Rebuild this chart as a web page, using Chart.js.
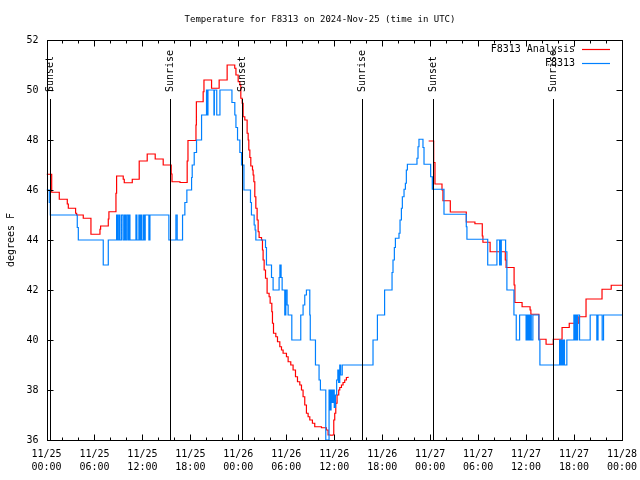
<!DOCTYPE html>
<html>
<head>
<meta charset="utf-8">
<script src="https://cdn.jsdelivr.net/npm/chart.js@4/dist/chart.umd.min.js"></script>
<style>
  html, body { margin: 0; padding: 0; background: #ffffff; }
  #wrap { width: 640px; height: 480px; position: relative; }
</style>
</head>
<body>
<div id="wrap"><canvas id="c" width="640" height="480"></canvas></div>
<script>
// ---------------- DATA ----------------
const chartTitle = "Temperature for F8313 on 2024-Nov-25 (time in UTC)";
const yAxisTitle = "degrees F";
const seriesNames = ["F8313 Analysis", "F8313"];

// x tick labels (hours since 11/25 00:00 UTC, every 6 h)
const xTickHours = [0, 6, 12, 18, 24, 30, 36, 42, 48, 54, 60, 66, 72];
const xTickDates = ["11/25","11/25","11/25","11/25","11/26","11/26","11/26","11/26","11/27","11/27","11/27","11/27","11/28"];
const xTickTimes = ["00:00","06:00","12:00","18:00","00:00","06:00","12:00","18:00","00:00","06:00","12:00","18:00","00:00"];
const yTicks = [36, 38, 40, 42, 44, 46, 48, 50, 52];

// Sunrise / sunset markers (hours)
const sunEventNames = ["Sunset", "Sunrise", "Sunset", "Sunrise", "Sunset", "Sunrise"];
const sunEventHours = [0.47, 15.47, 24.47, 39.42, 48.38, 63.38];

// F8313 Analysis (red): hour of change, value from then on (null = gap)
const analysisHours = [
  0, 0.65, 1.6, 2.6, 2.73, 3.64, 3.77, 4.6, 5.56, 6.69, 6.77, 7.73, 7.81, 8.69, 8.77,
  9.6, 9.73, 10.73, 11.6, 12.6, 13.6, 14.6, 15.6, 15.7, 16.7, 17.6, 17.7, 18.7, 18.75,
  19.6, 19.7, 20.65, 21.6, 22.6, 23.55, 23.7, 23.98, 24.19, 24.31, 24.48, 24.6, 24.81,
  25.1, 25.23, 25.31, 25.44, 25.56, 25.77, 25.85, 25.94, 26.06, 26.19, 26.35, 26.48,
  26.6, 26.9, 27.02, 27.1, 27.23, 27.4, 27.6, 27.85, 27.98, 28.19, 28.27, 28.4, 28.69,
  28.9, 29.19, 29.4, 29.6, 30.02, 30.23, 30.56, 30.85, 31.15, 31.4, 31.69, 31.9, 32.1,
  32.31, 32.52, 32.73, 32.94, 33.27, 33.56, 34.4, 35.02, 35.23, 35.56, 35.77, 35.94,
  36.06, 36.19, 36.35, 36.56, 36.69, 36.9, 37.1, 37.31, 37.52, 37.73,
  42.7,
  47.81, 48.44, 48.6, 49.48, 49.6, 50.52, 52.52, 53.6, 54.52, 54.6, 55.5, 57.4, 57.5,
  58.5, 58.6, 59.5, 60.5, 60.6, 61.6, 62.5, 63.4, 64.5, 65.4, 66.6, 67.5, 69.5, 70.65, 72
];
const analysisTemps = [
  46.63, 45.91, 45.63, 45.44, 45.27, 45.07, 45.0, 44.87, 44.23, 44.43, 44.56, 44.84, 45.13, 45.87, 46.56,
  46.43, 46.29, 46.43, 47.16, 47.44, 47.24, 47.0, 46.64, 46.33, 46.3, 47.16, 47.98, 48.6, 49.53,
  49.93, 50.4, 50.07, 50.4, 51.0, 50.87, 50.6, 50.33, 50.2, 49.67, 49.47, 48.93, 48.8,
  48.27, 48.0, 47.6, 47.3, 46.96, 46.8, 46.6, 46.33, 45.73, 45.27, 44.8, 44.33,
  44.1, 44.0, 43.6, 43.2, 42.8, 42.47, 41.87, 41.73, 41.47, 41.13, 40.67, 40.27, 40.13,
  39.93, 39.73, 39.6, 39.47, 39.33, 39.13, 39.0, 38.8, 38.53, 38.33, 38.2, 38.0, 37.73,
  37.4, 37.07, 36.93, 36.8, 36.67, 36.53, 36.49, 36.4, 36.2, 36.19, 36.2, 36.8,
  37.07, 37.47, 37.8, 38.0, 38.1, 38.2, 38.3, 38.4, 38.5, 38.53,
  null,
  47.96, 47.1, 46.24, 46.0, 45.57, 45.12, 44.72, 44.65, 44.16, 43.91, 43.53, 43.2, 42.9,
  42.2, 41.5, 41.33, 41.2, 41.03, 40.03, 39.83, 40.03, 40.5, 40.67, 40.93, 41.64, 42.03, 42.19, 42.19
];

// F8313 observations (blue): hour of change, value from then on
const obsHours = [
  0, 0.35, 0.48, 3.85, 3.98, 7.1, 7.73,
  8.77, 8.9, 9.06, 9.19, 9.4, 9.6, 9.77, 9.9, 10.06, 10.23, 10.3, 10.44,
  11.19, 11.31, 11.56, 11.69, 11.81, 11.94, 12.15, 12.23, 12.35, 12.81, 12.94,
  15.31, 16.19, 16.35, 17.02, 17.31, 17.56, 18.15, 18.23, 18.48, 18.77, 19.4,
  20.02, 20.12, 20.2, 20.95, 21.0, 21.3, 21.7, 23.2, 23.56, 23.7, 23.9, 24.19, 24.4, 24.7,
  25.52, 25.64, 25.98, 26.1, 26.19, 27.4, 27.52, 28.15, 28.35, 29.1, 29.2, 29.35, 29.48,
  29.81, 29.94, 30.1, 30.23, 30.69, 31.81, 32.1, 32.31, 32.52, 32.94, 33.0, 33.65, 34.1,
  34.27, 34.94, 35.35, 35.45, 35.6, 35.7, 35.85, 36.0, 36.15, 36.3, 36.45, 36.55, 36.69,
  36.8, 37.0,
  40.85, 41.4, 42.3, 43.23, 43.35, 43.52, 43.65, 44.1, 44.23, 44.4, 44.52, 44.73, 44.9,
  45.02, 45.15, 46.35, 46.48, 46.6, 47.1, 47.23, 48.06, 48.27, 49.73, 52.52, 52.6,
  55.2, 56.35, 56.69, 56.75, 56.85, 56.9, 57.44, 57.6, 58.48, 58.77,
  59.19, 60.0, 60.1, 60.2, 60.3, 60.4, 60.55, 60.65, 60.85, 61.6, 61.73,
  64.19, 64.3, 64.45, 64.55, 64.7, 64.8, 65.1, 65.98, 66.1, 66.2, 66.35, 66.45, 66.69,
  68.02, 68.85, 69.0, 69.52, 69.69, 72
];
const obsTemps = [
  46, 45.5, 45, 44.5, 44, 43, 44,
  45, 44, 45, 44, 45, 44, 45, 44, 45, 44, 45, 44,
  45, 44, 45, 44, 45, 44, 45, 44, 45, 44, 45,
  44, 45, 44, 45, 45.5, 46, 46.5, 47, 47.5, 48, 49,
  50, 49, 50, 49, 50, 49, 50, 49.5, 49, 48.5, 48, 47.5, 47, 46,
  45.5, 45, 44.6, 44.4, 44, 43.7, 43, 42.5, 42, 42.5, 43, 42.5, 42,
  41, 42, 41.4, 41, 40, 41, 41.4, 41.8, 42, 41, 40, 39, 38.4,
  38, 36, 38, 37.2, 38, 37.5, 38, 37.3, 37.8, 38.4, 38.8, 38.3, 39,
  38.6, 39,
  40, 41, 42, 42.7, 43.2, 43.7, 44.07, 44.27, 44.8, 45.27, 45.73, 46.03, 46.27,
  46.8, 47.03, 47.27, 47.73, 48.03, 47.7, 47.03, 46.53, 46.03, 45.03, 44.53, 44.03,
  43, 44, 43, 44, 43, 44, 43.53, 42, 41, 40,
  41, 40, 41, 40, 41, 40, 41, 40, 41, 40, 39,
  40, 39, 40, 39, 40, 39, 40, 41, 40, 41, 40, 41, 40,
  41, 40, 41, 40, 41, 41
];

// ---------------- CHART ----------------
const FONT = "'DejaVu Sans Mono', 'Liberation Mono', monospace";
const RED = '#ff0000';
const BLUE = '#0080ff';

const toPoints = (xs, ys) => xs.map((x, i) => ({ x: x, y: ys[i] }));

const decorPlugin = {
  id: 'decor',
  afterDatasetsDraw(chart) {
    const ctx = chart.ctx;
    const a = chart.chartArea;
    const xs = chart.scales.x;
    ctx.save();
    ctx.strokeStyle = '#000';
    ctx.lineWidth = 1;
    ctx.fillStyle = '#000';
    ctx.font = '10px ' + FONT;
    sunEventHours.forEach((h, i) => {
      const px = Math.round(xs.getPixelForValue(h)) + 0.5;
      ctx.beginPath();
      ctx.moveTo(px, a.top + 59);
      ctx.lineTo(px, a.bottom);
      ctx.stroke();
      ctx.save();
      ctx.translate(px, a.top + 52);
      ctx.rotate(-Math.PI / 2);
      ctx.textAlign = 'left';
      ctx.textBaseline = 'middle';
      ctx.fillText(sunEventNames[i], 0, 0);
      ctx.restore();
    });
    ctx.restore();
  },
  afterDraw(chart) {
    const ctx = chart.ctx;
    const a = chart.chartArea;
    const xs = chart.scales.x, ys = chart.scales.y;
    ctx.save();
    ctx.strokeStyle = '#000';
    ctx.lineWidth = 1;
    const L = Math.round(a.left) + 0.5, R = Math.round(a.right) + 0.5;
    const T = Math.round(a.top) + 0.5, B = Math.round(a.bottom) + 0.5;
    ctx.strokeRect(L, T, R - L, B - T);
    ctx.beginPath();
    for (let h = xs.min; h <= xs.max; h += 2) {
      const px = Math.round(xs.getPixelForValue(h)) + 0.5;
      const len = (h % 6 === 0) ? 6 : 3;
      ctx.moveTo(px, B); ctx.lineTo(px, B - len);
      ctx.moveTo(px, T); ctx.lineTo(px, T + len);
    }
    yTicks.forEach(v => {
      const py = Math.round(ys.getPixelForValue(v)) + 0.5;
      ctx.moveTo(L, py); ctx.lineTo(L + 6, py);
      ctx.moveTo(R, py); ctx.lineTo(R - 6, py);
    });
    ctx.stroke();

    // title
    ctx.fillStyle = '#000';
    ctx.font = '9px ' + FONT;
    ctx.textAlign = 'center';
    ctx.textBaseline = 'middle';
    ctx.fillText(chartTitle, 320, 20);
    // y axis title
    ctx.font = '10px ' + FONT;
    ctx.save();
    ctx.translate(11, (a.top + a.bottom) / 2);
    ctx.rotate(-Math.PI / 2);
    ctx.fillText(yAxisTitle, 0, 0);
    ctx.restore();
    // legend
    ctx.textAlign = 'right';
    const colors = [RED, BLUE];
    seriesNames.forEach((n, i) => {
      const y = a.top + 9 + i * 14;
      ctx.fillStyle = '#000';
      ctx.fillText(n, a.right - 47, y);
      ctx.strokeStyle = colors[i];
      ctx.lineWidth = 1.2;
      ctx.beginPath();
      ctx.moveTo(a.right - 40, y + 0.5);
      ctx.lineTo(a.right - 12, y + 0.5);
      ctx.stroke();
    });
    ctx.restore();
  }
};

new Chart(document.getElementById('c'), {
  type: 'line',
  data: {
    datasets: [
      {
        label: seriesNames[0],
        data: toPoints(analysisHours, analysisTemps),
        borderColor: RED,
        backgroundColor: RED,
        borderWidth: 1.2,
        pointRadius: 0,
        stepped: true,
        spanGaps: false,
        order: 2
      },
      {
        label: seriesNames[1],
        data: toPoints(obsHours, obsTemps),
        borderColor: BLUE,
        backgroundColor: BLUE,
        borderWidth: 1.2,
        pointRadius: 0,
        stepped: true,
        spanGaps: false,
        order: 1
      }
    ]
  },
  options: {
    responsive: false,
    animation: false,
    layout: { padding: { left: 0, right: 18, top: 40, bottom: 0 } },
    plugins: { legend: { display: false }, title: { display: false }, tooltip: { enabled: false } },
    scales: {
      x: {
        type: 'linear',
        min: 0, max: 72,
        grid: { display: false, drawTicks: false },
        border: { display: false },
        afterBuildTicks: s => { s.ticks = xTickHours.map(v => ({ value: v })); },
        afterFit: s => { s.height = 40; s.paddingLeft = 0; s.paddingRight = 0; },
        ticks: {
          autoSkip: false, maxRotation: 0, minRotation: 0, padding: 8,
          color: '#000',
          font: { family: FONT, size: 10, lineHeight: 1.3 },
          callback: (v) => { const i = xTickHours.indexOf(v); return i >= 0 ? [xTickDates[i], xTickTimes[i]] : ''; }
        }
      },
      y: {
        min: 36, max: 52,
        grid: { display: false, drawTicks: false },
        border: { display: false },
        afterBuildTicks: s => { s.ticks = yTicks.map(v => ({ value: v })); },
        afterFit: s => { s.width = 46.5; s.paddingTop = 0; s.paddingBottom = 0; },
        ticks: {
          padding: 8, color: '#000',
          font: { family: FONT, size: 10 }
        }
      }
    }
  },
  plugins: [decorPlugin]
});
</script>
</body>
</html>
